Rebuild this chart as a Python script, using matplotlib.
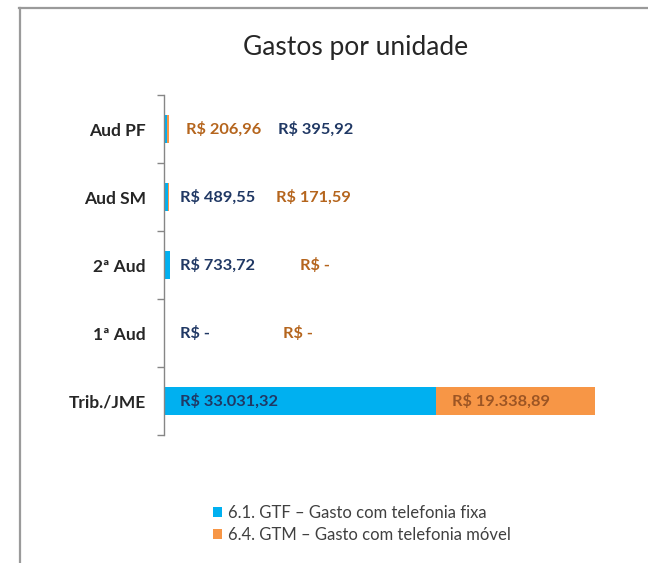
import matplotlib.pyplot as plt
from matplotlib.lines import Line2D
import numpy as np

plt.rcParams['font.family'] = ['Lato', 'DejaVu Sans']

# bottom to top
unidades = ["Trib./JME", "1ª Aud", "2ª Aud", "Aud SM", "Aud PF"]
gtf = [33031.32, 0.0, 733.72, 489.55, 395.92]
gtm = [19338.89, 0.0, 0.0, 171.59, 206.96]
nome_gtf = "6.1. GTF – Gasto com telefonia fixa"
nome_gtm = "6.4. GTM – Gasto com telefonia móvel"

# where Excel left the data labels (x in data units)
pos_gtf = [1950, 1950, 1950, 1950, 13850]
pos_gtm = [34980, 14450, 16500, 13600, 2650]


def reais(v):
    if v == 0:
        return "R$ -"
    s = f"{v:,.2f}".replace(",", "X").replace(".", ",").replace("X", ".")
    return "R$ " + s


cor_gtf = "#00B0F0"
cor_gtm = "#F79646"
txt_gtf = "#203864"
txt_gtm = "#B5651D"

fig = plt.figure(figsize=(6.48, 5.63), dpi=100)
ax = fig.add_axes([164 / 648, 1 - 435 / 563, 453 / 648, 340 / 563])

y = np.arange(len(unidades))
b1 = ax.barh(y, gtf, height=0.41, color=cor_gtf, label=nome_gtf)
b2 = ax.barh(y, gtm, left=gtf, height=0.41, color=cor_gtm, label=nome_gtm)

for i in range(len(unidades)):
    ax.text(pos_gtf[i], y[i], reais(gtf[i]), va="center", ha="left",
            fontsize=11.8, fontweight="bold", color=txt_gtf)
    cor = "#9C5524" if gtm[i] > 1000 else txt_gtm
    ax.text(pos_gtm[i], y[i], reais(gtm[i]), va="center", ha="left",
            fontsize=11.8, fontweight="bold", color=cor)

ax.set_xlim(0, 55000)
ax.set_ylim(-0.5, len(unidades) - 0.5)
ax.set_xticks([])
ax.set_yticks(y)
ax.set_yticklabels(unidades, fontsize=12.5, fontweight="bold", color="#262626")
ax.set_yticks(np.arange(-0.5, len(unidades)), minor=True)
ax.tick_params(axis="y", which="major", length=0, pad=13)
ax.tick_params(axis="y", which="minor", length=5, color="#868686", width=1)
for s in ["top", "right", "bottom"]:
    ax.spines[s].set_visible(False)
ax.spines["left"].set_color("#868686")
ax.spines["left"].set_linewidth(1)

fig.text(356 / 648, 1 - 47 / 563, "Gastos por unidade", ha="center",
         va="center", fontsize=19, color="#262626")

fig.legend(handles=[b1, b2], loc="center left",
           bbox_to_anchor=(198 / 648, 1 - 524 / 563), frameon=False,
           fontsize=12, handlelength=0.55, handleheight=0.55,
           handletextpad=0.35, labelspacing=0.35, labelcolor="#404040")

# chart frame (clipped screenshot: only top and left edges show)
fig.add_artist(Line2D([19 / 648, 1.0], [1 - 7.5 / 563, 1 - 7.5 / 563],
                      transform=fig.transFigure, color="#9A9A9A", lw=1.6))
fig.add_artist(Line2D([19.5 / 648, 19.5 / 648], [0.0, 1 - 7.5 / 563],
                      transform=fig.transFigure, color="#9A9A9A", lw=1.6))

fig.savefig("out.png", dpi=100)
